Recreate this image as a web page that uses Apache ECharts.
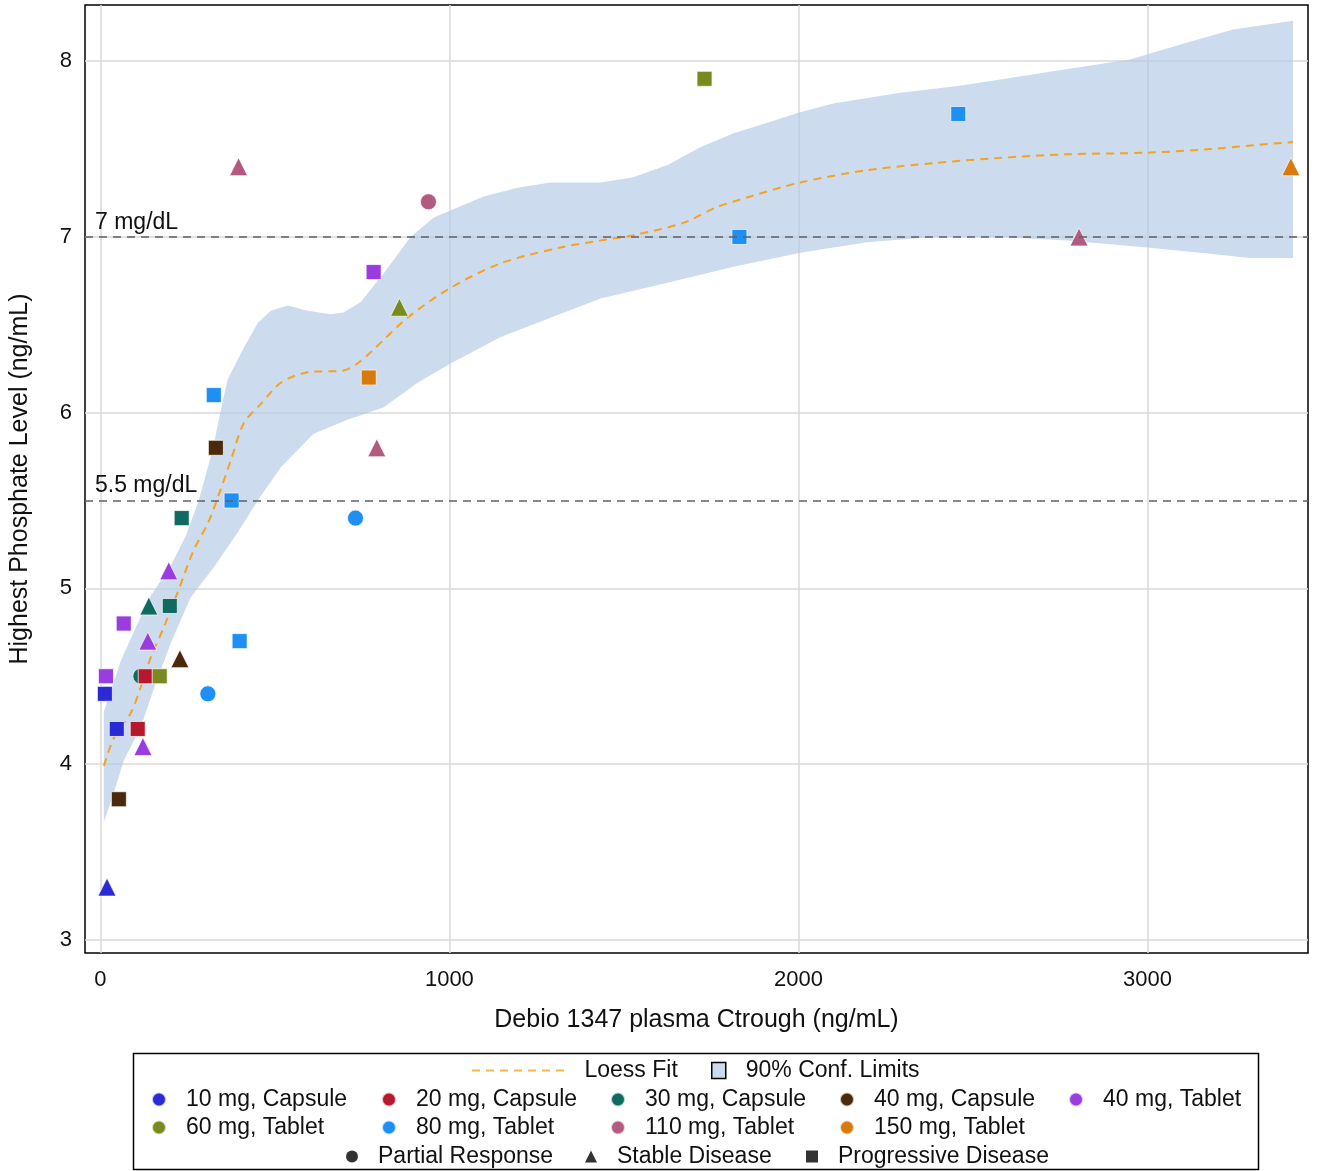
<!DOCTYPE html>
<html><head><meta charset="utf-8">
<script src="https://cdn.jsdelivr.net/npm/echarts@6/dist/echarts.min.js"></script>
<style>html,body{margin:0;padding:0;background:#fff}#c{width:1319px;height:1171px}</style>
</head><body><div id="c"></div>
<script>
const doseGroups = ['10 mg, Capsule','20 mg, Capsule','30 mg, Capsule','40 mg, Capsule','40 mg, Tablet','60 mg, Tablet','80 mg, Tablet','110 mg, Tablet','150 mg, Tablet'];
const doseColors = ['#2b2bd6','#b8182e','#0f6b5f','#4b2a0c','#9a3de0','#7a8a1e','#1e90f5','#b25a80','#d97a0c'];
const responseTypes = ['Partial Response','Stable Disease','Progressive Disease'];
const responseSymbols = ['circle','triangle','rect'];
const responseSizes = [16, 18, 15];

const ctrough   = [396, 1731, 2458, 3411, 940, 1831, 2804, 783, 857, 769, 325, 331, 792, 376, 731, 233, 196, 139, 199, 67, 136, 399, 228, 16, 116, 130, 170, 308, 13, 47, 107, 122, 53, 19];
const phosphate = [7.4, 7.9, 7.7, 7.4, 7.2, 7.0, 7.0, 6.8, 6.6, 6.2, 6.1, 5.8, 5.8, 5.5, 5.4, 5.4, 5.1, 4.9, 4.9, 4.8, 4.7, 4.7, 4.6, 4.5, 4.5, 4.5, 4.5, 4.4, 4.4, 4.2, 4.2, 4.1, 3.8, 3.3];
const doseIndex = [7, 5, 6, 8, 7, 6, 7, 4, 5, 8, 6, 3, 7, 6, 6, 2, 4, 2, 2, 4, 4, 6, 3, 4, 2, 1, 5, 6, 0, 0, 1, 4, 3, 0];
const responseIndex = [1, 2, 2, 1, 0, 2, 1, 2, 1, 2, 2, 2, 1, 2, 0, 2, 1, 1, 2, 2, 1, 2, 1, 2, 0, 2, 2, 0, 2, 2, 2, 1, 2, 1];

const loessX = [10, 39, 87, 116, 145, 182, 222, 268, 308, 337, 374, 411, 460, 517, 594, 697, 737, 783, 880, 1003, 1147, 1318, 1433, 1528, 1670, 1767, 1862, 2005, 2197, 2388, 2578, 2769, 3007, 3180, 3294, 3417];
const loessY = [3.99, 4.15, 4.29, 4.44, 4.61, 4.78, 4.98, 5.22, 5.37, 5.52, 5.73, 5.94, 6.05, 6.17, 6.23, 6.24, 6.28, 6.36, 6.54, 6.71, 6.85, 6.94, 6.98, 7.01, 7.08, 7.17, 7.23, 7.31, 7.38, 7.42, 7.45, 7.47, 7.48, 7.50, 7.52, 7.54];

const confUpperX = [10, 59, 102, 145, 202, 245, 282, 322, 351, 365, 411, 451, 488, 537, 594, 660, 697, 746, 811, 889, 955, 1003, 1098, 1195, 1290, 1433, 1527, 1625, 1719, 1814, 1911, 2005, 2100, 2292, 2463, 2721, 2950, 3102, 3245, 3417];
const confUpperY = [4.30, 4.59, 4.78, 4.96, 5.13, 5.30, 5.50, 5.79, 6.07, 6.19, 6.37, 6.51, 6.58, 6.61, 6.58, 6.56, 6.57, 6.63, 6.79, 7.00, 7.11, 7.15, 7.23, 7.28, 7.31, 7.31, 7.34, 7.41, 7.51, 7.59, 7.65, 7.71, 7.76, 7.82, 7.86, 7.94, 8.01, 8.10, 8.18, 8.23];
const confLowerX = [10, 39, 67, 116, 150, 202, 259, 325, 394, 451, 517, 611, 708, 811, 909, 1003, 1147, 1290, 1433, 1625, 1814, 2005, 2197, 2386, 2578, 2770, 3000, 3151, 3294, 3417];
const confLowerY = [3.67, 3.84, 4.02, 4.21, 4.41, 4.69, 4.95, 5.12, 5.32, 5.50, 5.69, 5.88, 5.96, 6.03, 6.17, 6.28, 6.43, 6.54, 6.65, 6.74, 6.83, 6.91, 6.97, 7.00, 7.00, 6.98, 6.94, 6.91, 6.88, 6.88];

const xTicks = [0, 1000, 2000, 3000];
const yTicks = [3, 4, 5, 6, 7, 8];
const refLevels = [7, 5.5];
const refLabels = ['7 mg/dL', '5.5 mg/dL'];

const FONT = '"Liberation Sans", Arial, sans-serif';
const bandColor = 'rgba(176,200,228,0.65)';
const loessColor = '#f6a21e';

// dashed-line legend glyph (8 on, 6 off)
let dashPath = 'path://';
for (let x = 0; x < 93; x += 14) dashPath += 'M' + x + ',0L' + (x + 8) + ',0L' + (x + 8) + ',2L' + x + ',2Z';

const chart = echarts.init(document.getElementById('c'), null, {renderer: 'canvas'});

const scatterSeries = doseGroups.map((g, gi) => {
  const data = [];
  for (let i = 0; i < ctrough.length; i++) {
    if (doseIndex[i] !== gi) continue;
    data.push({
      value: [ctrough[i], phosphate[i]],
      symbol: responseSymbols[responseIndex[i]],
      symbolSize: responseSizes[responseIndex[i]]
    });
  }
  return {
    type: 'scatter', name: g, data: data, z: gi === 2 ? 2.9 : 3,
    symbol: 'circle',
    itemStyle: {color: doseColors[gi], borderColor: 'rgba(255,255,255,0.7)', borderWidth: 1, opacity: 1},
    emphasis: {disabled: true}
  };
});

const shapeSeries = responseTypes.map((r, ri) => ({
  type: 'scatter', name: r, data: [], symbol: responseSymbols[ri],
  itemStyle: {color: '#000'}
}));

const series = [
  {
    type: 'custom', name: '90% Conf. Limits', coordinateSystem: 'cartesian2d',
    data: [[0, 5]], clip: true, z: 1, silent: true,
    itemStyle: {color: bandColor},
    renderItem: function (params, api) {
      const pts = [];
      for (let i = 0; i < confUpperX.length; i++) pts.push(api.coord([confUpperX[i], confUpperY[i]]));
      for (let i = confLowerX.length - 1; i >= 0; i--) pts.push(api.coord([confLowerX[i], confLowerY[i]]));
      return {type: 'polygon', shape: {points: pts}, style: {fill: bandColor}};
    }
  },
  {
    type: 'line', name: 'loess', z: 2,
    data: loessX.map((x, i) => [x, loessY[i]]),
    smooth: 0.3, symbol: 'none', showSymbol: false,
    lineStyle: {color: loessColor, width: 2, type: [8, 6]},
    itemStyle: {color: loessColor},
    markLine: {
      silent: true, symbol: 'none', animation: false,
      lineStyle: {color: '#606060', width: 1.6, type: [8, 6]},
      label: {show: true, position: 'insideStartTop', color: '#111', fontSize: 23, fontFamily: FONT, distance: [10, 3]},
      data: refLevels.map((v, i) => ({yAxis: v, label: {formatter: refLabels[i]}}))
    }
  },
  {type: 'scatter', name: 'Loess Fit', data: [], itemStyle: {color: loessColor}}
].concat(scatterSeries, shapeSeries);

const legTxt = {color: '#111', fontSize: 23, fontFamily: FONT, padding: [0, 0, 0, 15]};
function leg(name, left, cy, w, h, icon, extra, topAdj) {
  const item = {name: name};
  if (icon) item.icon = icon;
  if (extra) item.itemStyle = extra;
  return {
    show: true, orient: 'horizontal', left: left, top: cy - 10 + (topAdj || 0), padding: 0,
    itemWidth: w, itemHeight: h, selectedMode: false,
    textStyle: legTxt, data: [item]
  };
}
const legends = [
  leg('Loess Fit', 472, 1069, 93, 2, dashPath, {color: loessColor}),
  leg('90% Conf. Limits', 711, 1069, 14, 16, 'rect', {color: '#cbdbed', borderColor: '#000', borderWidth: 1.5})
];
const colLeft = [151, 381, 610, 839, 1068];
doseGroups.forEach((g, i) => {
  const row = i < 5 ? 0 : 1;
  const col = i < 5 ? i : i - 5;
  legends.push(leg(g, colLeft[col], row === 0 ? 1098 : 1126, 14, 16, 'circle'));
});
const shapeLeft = [346, 585, 806];
responseTypes.forEach((r, i) => {
  legends.push(leg(r, shapeLeft[i], 1155, 12, 12, responseSymbols[i]));
});

chart.setOption({
  animation: false,
  backgroundColor: '#fff',
  grid: {left: 84, right: 11, top: 5, bottom: 218, show: true, borderColor: '#000', borderWidth: 1.5, containLabel: false},
  xAxis: {
    type: 'value', min: -44, max: 3460,
    name: 'Debio 1347 plasma Ctrough (ng/mL)', nameLocation: 'middle', nameGap: 55,
    nameTextStyle: {fontSize: 25, color: '#111', fontFamily: FONT},
    axisLine: {show: false}, axisTick: {show: false, customValues: xTicks},
    axisLabel: {customValues: xTicks, fontSize: 22, color: '#111', fontFamily: FONT, margin: 16, formatter: v => String(v)},
    splitLine: {show: true, lineStyle: {color: '#dadada', width: 1.5}}
  },
  yAxis: {
    type: 'value', min: 2.925, max: 8.32,
    name: 'Highest Phosphate Level (ng/mL)', nameLocation: 'middle', nameGap: 52,
    nameTextStyle: {fontSize: 25, color: '#111', fontFamily: FONT},
    axisLine: {show: false}, axisTick: {show: false, customValues: yTicks},
    axisLabel: {customValues: yTicks, fontSize: 22, color: '#111', fontFamily: FONT, margin: 13, formatter: v => String(v)},
    splitLine: {show: true, lineStyle: {color: '#dadada', width: 1.5}}
  },
  legend: legends,
  graphic: [{
    type: 'rect', shape: {x: 133.5, y: 1053.5, width: 1125, height: 116},
    style: {fill: 'none', stroke: '#000', lineWidth: 1.5}, silent: true, z: 100
  }],
  series: series
});
</script></body></html>
